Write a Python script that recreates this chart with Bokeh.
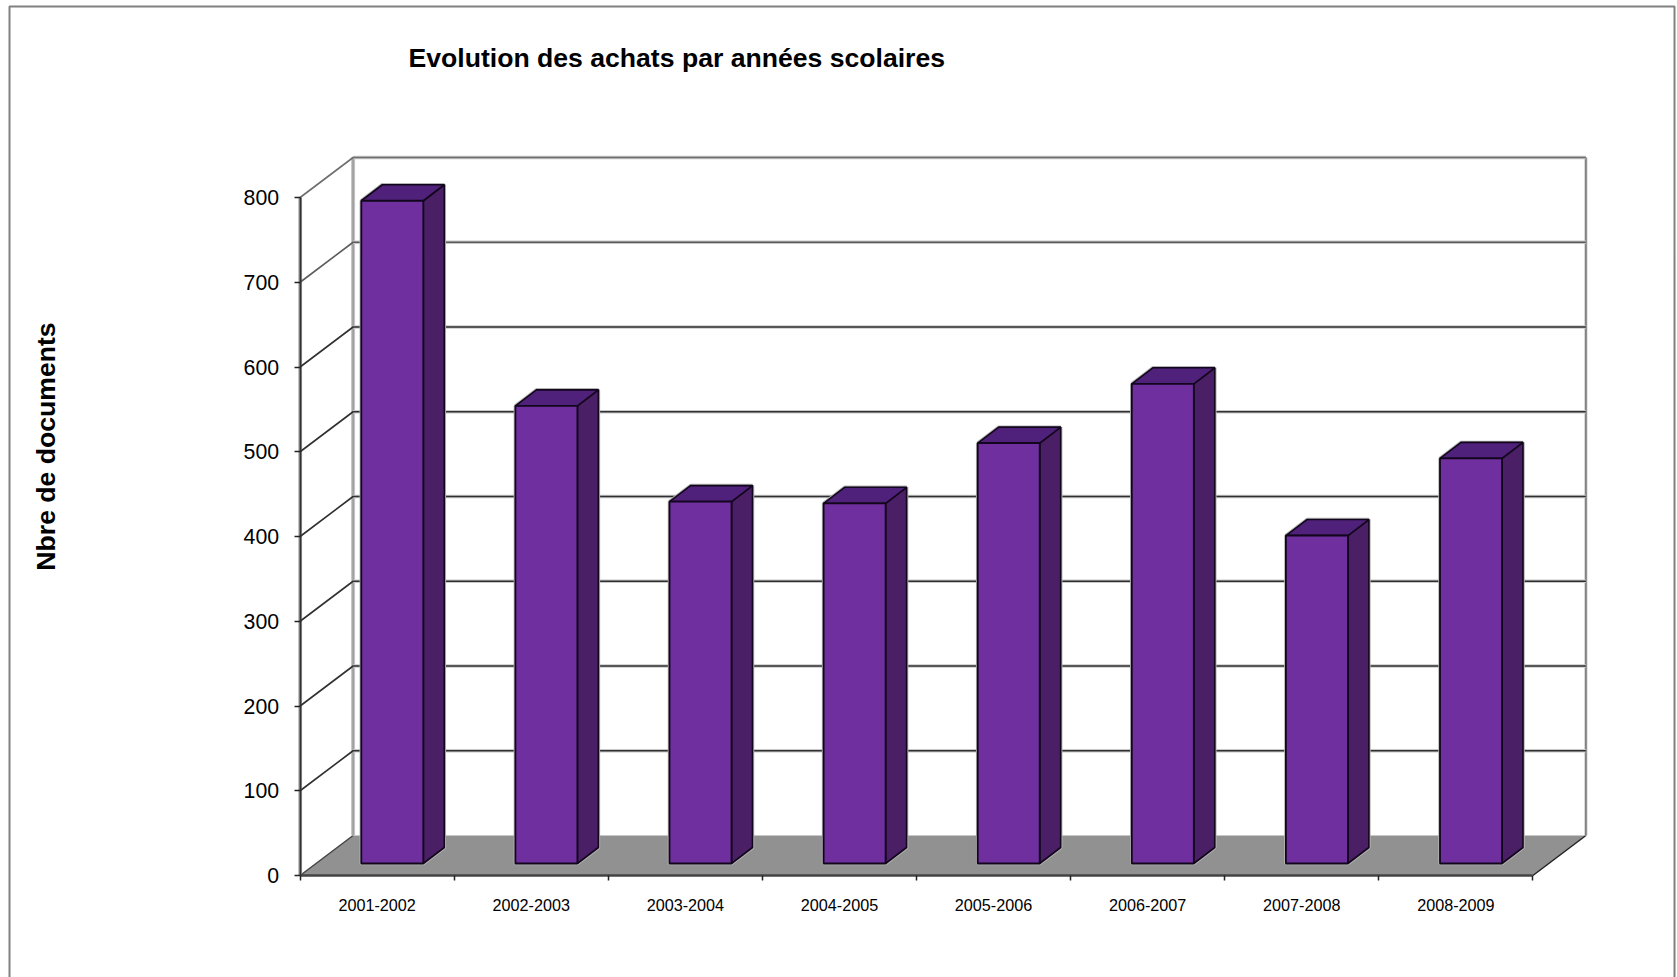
from math import pi
from bokeh.plotting import figure
from bokeh.models import FixedTicker, Label, PolyAnnotation, Range1d
from bokeh.embed import file_html
from bokeh.resources import INLINE

categories = ["2001-2002", "2002-2003", "2003-2004", "2004-2005",
              "2005-2006", "2006-2007", "2007-2008", "2008-2009"]
achats = [782, 540, 427, 425, 496, 566, 387, 478]
y_ticks = [0, 100, 200, 300, 400, 500, 600, 700, 800]
title_text = "Evolution des achats par années scolaires"
y_title = "Nbre de documents"

FONT = "Liberation Sans"
PX_X = 154.1     # pixels per category
PX_Y = 0.8475    # pixels per document
W, H = 1677, 977
L, B = 299.6, 875  # canvas position of the data origin

# depth of the 3D box and of the bars
WALL_DX, WALL_DY = 53 / PX_X, 40 / PX_Y
BAR_DX, BAR_DY = 21 / PX_X, 16 / PX_Y
BAR_X0, BAR_W, BAR_BASE = 61.2 / PX_X, 62 / PX_X, 12 / PX_Y

n = len(categories)
p = figure(width=W, height=H, output_backend="svg", toolbar_location=None,
           x_range=Range1d(-L / PX_X, (W - L) / PX_X), y_range=Range1d(-(H - B) / PX_Y, B / PX_Y),
           min_border=0, min_border_left=0, min_border_right=0, min_border_top=0, min_border_bottom=0,
           background_fill_color="white", border_fill_color="white",
           outline_line_color=None, margin=(0, 0, 0, 0))
p.grid.visible = False

# floor
p.patch([0, n, n + WALL_DX, WALL_DX], [0, 0, WALL_DY, WALL_DY], fill_color="#919191", line_color=None)
p.line([n, n + WALL_DX], [0, WALL_DY], line_color="#222222", line_width=1.5)
p.line([0, WALL_DX], [0, WALL_DY], line_color="#444444", line_width=1.5)

# back walls: vertical edges
p.line([WALL_DX, WALL_DX], [WALL_DY, 800 + WALL_DY], line_color="#c4c4c4", line_width=4)
p.line([WALL_DX, WALL_DX], [WALL_DY, 800 + WALL_DY], line_color="#999999", line_width=1.5)
p.line([n + WALL_DX] * 2, [WALL_DY, 800 + WALL_DY], line_color="#c4c4c4", line_width=3)
p.line([n + WALL_DX] * 2, [WALL_DY, 800 + WALL_DY], line_color="#777777", line_width=1.5)
p.line([0, 0], [0, 800], line_color="#c0c0c0", line_width=4)

# grid lines on the side wall and the back wall
for v in y_ticks[1:]:
    dark = "#303030" if v <= 600 else ("#5c5c5c" if v == 700 else "#6e6e6e")
    p.line([WALL_DX, n + WALL_DX], [v + WALL_DY, v + WALL_DY], line_color="#c8c8c8", line_width=3.5)
    p.line([0, WALL_DX, n + WALL_DX], [v, v + WALL_DY, v + WALL_DY], line_color=dark, line_width=1.6)

# bars
lefts = [i + BAR_X0 for i in range(n)]
rights = [x + BAR_W for x in lefts]
tops = [BAR_BASE + v for v in achats]
side_x = [[r, r + BAR_DX, r + BAR_DX, r] for r in rights]
side_y = [[BAR_BASE, BAR_BASE + BAR_DY, t + BAR_DY, t] for t in tops]
top_x = [[l, l + BAR_DX, r + BAR_DX, r] for l, r in zip(lefts, rights)]
top_y = [[t, t + BAR_DY, t + BAR_DY, t] for t in tops]

# soft edge around each bar
p.patches(side_x, side_y, fill_color=None, line_color="#b4b4b4", line_width=3.5)
p.patches(top_x, top_y, fill_color=None, line_color="#b4b4b4", line_width=3.5)
p.quad(left=lefts, right=rights, bottom=BAR_BASE, top=tops, fill_color=None, line_color="#b4b4b4", line_width=3.5)

p.patches(side_x, side_y, fill_color="#4a1f66", line_color="#12061c", line_width=1.6)
p.patches(top_x, top_y, fill_color="#50217a", line_color="#12061c", line_width=1.6)
p.quad(left=lefts, right=rights, bottom=BAR_BASE, top=tops,
       fill_color="#702f9f", line_color="#12061c", line_width=1.8)

# axes, fixed at the data origin
p.yaxis.fixed_location = 0
p.yaxis.ticker = FixedTicker(ticks=y_ticks)
p.yaxis.bounds = (0, 800)
p.yaxis.major_tick_out = 6
p.yaxis.major_tick_in = 0
p.yaxis.minor_tick_line_color = None
p.yaxis.axis_line_color = "#333333"
p.yaxis.axis_line_width = 2
p.yaxis.major_tick_line_color = "#222222"
p.yaxis.major_tick_line_width = 1.5
p.yaxis.major_label_standoff = 15
p.yaxis.major_label_text_font = FONT
p.yaxis.major_label_text_font_size = "21.3px"
p.yaxis.major_label_text_color = "black"

centers = [i + 0.5 for i in range(n)]
p.xaxis.fixed_location = 0
p.xaxis.ticker = FixedTicker(ticks=centers, minor_ticks=list(range(n + 1)))
p.xaxis.major_label_overrides = dict(zip(centers, categories))
p.xaxis.bounds = (0, n)
p.xaxis.major_tick_line_color = None
p.xaxis.major_tick_in = 0
p.xaxis.major_tick_out = 0
p.xaxis.minor_tick_in = 0
p.xaxis.minor_tick_out = 5
p.xaxis.minor_tick_line_color = "#222222"
p.xaxis.minor_tick_line_width = 1.5
p.xaxis.axis_line_color = "#444444"
p.xaxis.axis_line_width = 2.5
p.xaxis.major_label_standoff = 18
p.xaxis.major_label_text_font = FONT
p.xaxis.major_label_text_font_size = "16.2px"
p.xaxis.major_label_text_color = "black"

# chart title and vertical title
p.add_layout(Label(x=408, y=57, x_units="canvas", y_units="canvas", text=title_text,
                   text_align="left", text_baseline="middle", text_font=FONT,
                   text_font_style="bold", text_font_size="26.6px", text_color="black"))
p.add_layout(Label(x=45, y=446, x_units="canvas", y_units="canvas", text=y_title, angle=pi / 2,
                   text_align="center", text_baseline="middle", text_font=FONT,
                   text_font_style="bold", text_font_size="26.6px", text_color="black"))

# outer frame of the chart area (runs off the bottom of the page)
p.add_layout(PolyAnnotation(xs=[9, 9, 1674, 1674], ys=[1010, 6, 6, 1010], xs_units="canvas", ys_units="canvas",
                            fill_alpha=0, line_color="#808080", line_alpha=1, line_width=2))

open("out.html", "w").write(file_html(p, INLINE))
